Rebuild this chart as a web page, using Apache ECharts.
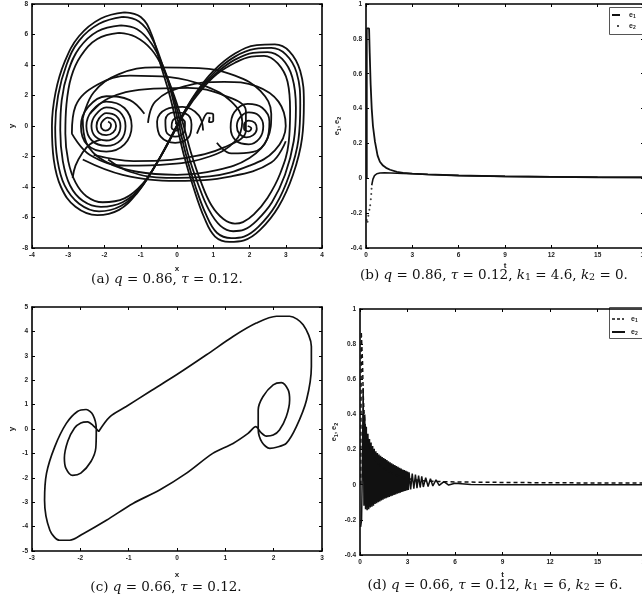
<!DOCTYPE html>
<html>
<head>
<meta charset="utf-8">
<script src="https://cdn.jsdelivr.net/npm/echarts@6/dist/echarts.min.js"></script>
<style>
  html, body { margin: 0; padding: 0; background: #fff; }
  #main { width: 642px; height: 600px; }
</style>
</head>
<body>
<div id="main"></div>
<script>
// ---- (a) q = 0.86 attractor ----
var strand1 = [[-1.45,7.45],[-2.1,7.05],[-2.7,5.9],[-3.1,4.2],[-3.35,2.2],[-3.45,0.0],[-3.4,-2.2],[-3.2,-4.0],[-2.8,-5.3],[-2.2,-5.85],
  [-1.6,-5.5],[-1.1,-4.4],[-0.65,-2.8],[-0.25,-1.1],[0.1,0.5],[0.5,2.1],[1.0,3.6],[1.6,4.75],[2.2,5.3],[2.7,5.35],
  [3.1,4.9],[3.4,3.6],[3.5,1.5],[3.45,-0.8],[3.2,-3.2],[2.8,-5.3],[2.3,-6.8],[1.85,-7.5],[1.45,-7.6],
  [1.05,-7.25],[0.75,-6.0],[0.45,-4.0],[0.2,-2.0],[0,0],[-0.2,2.0],[-0.45,4.0],[-0.7,6.0],[-1.0,7.15],[-1.45,7.45]];
var strand2 = [[-1.5,7.15],[-2.15,6.7],[-2.7,5.6],[-3.05,4.0],[-3.28,2.0],[-3.36,-0.1],[-3.3,-2.2],[-3.1,-3.9],[-2.7,-5.1],[-2.15,-5.6],
  [-1.55,-5.25],[-1.05,-4.2],[-0.6,-2.6],[-0.2,-0.9],[0.15,0.7],[0.55,2.2],[1.05,3.55],[1.6,4.55],[2.15,5.05],[2.6,5.12],
  [3.0,4.7],[3.3,3.5],[3.4,1.4],[3.35,-0.9],[3.1,-3.2],[2.72,-5.2],[2.25,-6.6],[1.85,-7.25],[1.5,-7.35],
  [1.1,-7.0],[0.8,-5.8],[0.5,-3.9],[0.25,-1.9],[0.05,0.1],[-0.15,2.1],[-0.4,4.0],[-0.7,5.8],[-1.05,6.85],[-1.5,7.15]];
var strand3 = [[-1.55,6.6],[-2.2,6.2],[-2.7,5.1],[-3.0,3.6],[-3.18,1.7],[-3.22,-0.3],[-3.15,-2.3],[-2.95,-3.9],[-2.6,-4.9],[-2.1,-5.3],
  [-1.5,-5.0],[-1.0,-4.0],[-0.55,-2.4],[-0.15,-0.7],[0.2,0.9],[0.6,2.3],[1.1,3.5],[1.6,4.35],[2.1,4.8],[2.5,4.85],
  [2.9,4.4],[3.18,3.2],[3.28,1.2],[3.22,-1.0],[2.98,-3.2],[2.62,-5.0],[2.2,-6.2],[1.85,-6.8],[1.55,-6.9],
  [1.2,-6.55],[0.88,-5.5],[0.58,-3.8],[0.3,-1.8],[0.1,0.2],[-0.12,2.1],[-0.38,3.9],[-0.7,5.4],[-1.1,6.35],[-1.55,6.6]];
var strand4 = [[-1.6,6.1],[-2.2,5.7],[-2.65,4.6],[-2.92,3.2],[-3.05,1.4],[-3.08,-0.5],[-3.0,-2.3],[-2.8,-3.7],[-2.5,-4.6],[-2.05,-5.0],
  [-1.45,-4.75],[-0.95,-3.8],[-0.5,-2.2],[-0.1,-0.5],[0.25,1.0],[0.65,2.3],[1.1,3.4],[1.6,4.15],[2.05,4.55],[2.4,4.6],
  [2.78,4.1],[3.05,2.9],[3.12,1.0],[3.08,-1.1],[2.85,-3.1],[2.5,-4.7],[2.12,-5.8],[1.82,-6.3],[1.6,-6.4],
  [1.28,-6.1],[0.95,-5.2],[0.65,-3.6],[0.38,-1.7],[0.15,0.3],[-0.08,2.0],[-0.35,3.6],[-0.7,5.0],[-1.15,5.85],[-1.6,6.1]];
var loopBig = [[-2.6,0.5],[-2.3,2.2],[-1.6,3.4],[-0.6,3.85],[0.6,3.8],[1.6,3.3],[2.3,2.3],[2.6,0.8],[2.5,-0.8],[2.0,-2.1],
  [1.1,-2.9],[0,-3.2],[-1.1,-3.0],[-2.0,-2.3],[-2.5,-1.1],[-2.6,0.5]];
var loopLeft = [[-2.9,-0.5],[-2.8,1.3],[-2.2,2.7],[-1.3,3.3],[-0.2,3.2],[0.8,2.6],[1.5,1.6],[1.8,0.3],[1.6,-1.0],[0.9,-2.0],
  [-0.2,-2.5],[-1.4,-2.6],[-2.4,-1.9],[-2.9,-0.5]];
var loopRight = [[-0.8,0.2],[-0.6,1.6],[0.2,2.6],[1.3,2.9],[2.2,2.6],[2.8,1.6],[3.0,0.0],[2.7,-1.6],[2.0,-2.6],[0.9,-3.3],
  [-0.3,-3.4],[-1.3,-3.0],[-1.9,-2.2]];
var loopMid = [[-2.3,-1.9],[-1.2,-2.3],[0.2,-2.1],[1.3,-1.4],[1.9,-0.3],[1.9,1.0],[1.3,2.0],[0.3,2.5],[-0.9,2.4],[-1.9,1.8],[-2.4,0.8]];
var loopLow = [[-2.6,-2.2],[-1.5,-3.2],[0,-3.6],[1.5,-3.3],[2.6,-2.4],[3.0,-1.0]];
var spiralLeft = [[-1.9,0.3],[-1.82,0.1],[-1.85,-0.15],[-1.97,-0.3],[-2.08,-0.15],[-2.1,0.1],[-2.03,0.38],
  [-1.92,0.55],[-1.75,0.4],[-1.68,0.0],[-1.76,-0.42],[-1.95,-0.6],[-2.15,-0.45],[-2.22,0.0],[-2.15,0.5],
  [-1.95,0.85],[-1.68,0.66],[-1.56,0.0],[-1.66,-0.66],[-1.95,-0.95],[-2.25,-0.7],[-2.36,0.0],[-2.25,0.72],
  [-1.95,1.22],[-1.58,0.92],[-1.42,0.0],[-1.55,-0.92],[-1.95,-1.3],[-2.35,-0.95],[-2.5,0.0],[-2.35,0.98],
  [-1.95,1.6],[-1.45,1.18],[-1.25,0.0],[-1.45,-1.2],[-1.95,-1.68],[-2.48,-1.22],[-2.65,0.0],[-2.45,1.25],
  [-1.95,1.95],[-1.3,1.7],[-0.9,0.8]];
var spiralRight = [[1.95,0.0],[2.05,-0.15],[1.98,-0.35],[1.85,-0.2],[1.85,0.1],[1.98,0.35],[2.15,0.2],[2.2,-0.2],
  [2.1,-0.6],[1.92,-0.75],[1.72,-0.5],[1.65,0.0],[1.75,0.6],[1.98,0.9],[2.25,0.7],[2.38,0.0],[2.28,-0.8],
  [1.98,-1.2],[1.62,-0.95],[1.48,-0.1],[1.58,0.9],[1.95,1.45],[2.35,1.2],[2.55,0.3],[2.48,-0.9],[2.1,-1.7],
  [1.5,-1.8],[1.1,-1.1]];
var spiralMid = [[-0.05,0.2],[0.08,0.0],[0.0,-0.3],[-0.15,-0.1],[-0.12,0.35],[0.05,0.55],[0.22,0.2],[0.2,-0.4],
  [-0.05,-0.7],[-0.3,-0.35],[-0.32,0.4],[-0.1,0.9],[0.25,0.8],[0.4,0.1],[0.32,-0.75],[-0.05,-1.1],[-0.45,-0.7],
  [-0.55,0.3],[-0.3,1.1],[0.15,1.25],[0.6,0.7],[0.72,-0.3]];
var hook = [[0.55,-0.5],[0.7,0.3],[0.85,0.85],[1.0,0.75],[1.0,0.35],[0.88,0.25],[0.9,0.6]];
var tail = [[-2.88,-3.4],[-2.8,-2.6],[-2.62,-1.8],[-2.4,-1.2],[-2.1,-0.9]];

// ---- (c) q = 0.66 limit cycle ----
var cycle = [[-1.62,-0.1],[-1.39,0.5],[-1.05,0.92],[-0.57,1.53],[-0.01,2.22],[0.61,3.04],[1.16,3.79],[1.64,4.34],
  [2.06,4.62],[2.33,4.62],[2.61,4.27],[2.78,3.38],[2.78,2.56],[2.68,1.19],[2.47,0.1],[2.26,-0.59],[2.06,-0.75],
  [1.92,-0.79],[1.76,-0.55],[1.68,0.0],[1.68,0.78],[1.78,1.33],[1.99,1.81],[2.16,1.9],[2.3,1.6],[2.33,1.19],
  [2.26,0.5],[2.12,-0.04],[1.99,-0.25],[1.85,-0.29],[1.74,-0.15],[1.63,0.1],
  [1.47,-0.18],[1.16,-0.59],[0.74,-1.0],[0.19,-1.82],[-0.36,-2.5],[-0.91,-3.05],[-1.46,-3.74],[-1.94,-4.29],
  [-2.22,-4.56],[-2.43,-4.56],[-2.63,-4.15],[-2.74,-2.92],[-2.7,-1.82],[-2.53,-0.73],[-2.29,0.23],[-2.06,0.72],
  [-1.88,0.8],[-1.74,0.58],[-1.67,0.0],[-1.68,-0.78],[-1.78,-1.33],[-1.99,-1.81],[-2.16,-1.9],[-2.3,-1.6],
  [-2.33,-1.19],[-2.26,-0.5],[-2.12,0.04],[-1.99,0.25],[-1.85,0.29],[-1.74,0.15],[-1.62,-0.1]];

// ---- (b) errors, k1 = 4.6, k2 = 0 ----
var e1b = [[0.05,0],[0.05,0.86],[0.2,0.86],[0.24,0.72],[0.3,0.54],[0.37,0.4],[0.45,0.3],[0.58,0.21],[0.75,0.13],
  [0.9,0.095],[1.1,0.073],[1.3,0.06],[1.56,0.049],[2.0,0.037],[2.4,0.031],[3,0.027],[4,0.022],[6,0.016],
  [9,0.011],[12,0.008],[15,0.006],[18,0.005]];
var e2bDots = [[0.05,-0.24],[0.1,-0.25],[0.15,-0.215],[0.22,-0.18],[0.27,-0.155],[0.31,-0.12],[0.34,-0.09],[0.36,-0.06]];
var e2bLine = [[0.37,-0.04],[0.45,-0.005],[0.55,0.015],[0.7,0.026],[0.9,0.03],[1.2,0.031],[1.6,0.03],[2.0,0.029],
  [2.4,0.028],[3,0.026],[4,0.022],[6,0.016],[9,0.011],[12,0.008],[15,0.006],[18,0.005]];

// ---- (d) errors, k1 = 6, k2 = 6 ----
var e1d = [[0.05,0],[0.08,0.87],[0.12,0.86],[0.16,0.7],[0.2,0.52],[0.25,0.42],[0.32,0.34],[0.4,0.29],[0.53,0.24],
  [0.7,0.19],[0.95,0.145],[1.25,0.11],[1.58,0.088],[2.0,0.066],[2.4,0.05],[3.0,0.035],[3.5,0.027],[4.2,0.021],
  [5,0.018],[6,0.016],[9,0.013],[12,0.011],[15,0.01],[18,0.009]];
var e2d = [[0.04,-0.24],[0.1,-0.2],[0.15,0.1],[0.2,0.55],[0.25,-0.12],[0.3,0.4],[0.35,-0.14],[0.4,0.33],[0.45,-0.145],
  [0.5,0.29],[0.55,-0.14],[0.6,0.26],[0.65,-0.13],[0.7,0.24],[0.75,-0.125],[0.8,0.22],[0.85,-0.12],[0.9,0.205],
  [0.95,-0.11],[1.0,0.19],[1.05,-0.105],[1.1,0.18],[1.15,-0.1],[1.2,0.172],[1.25,-0.095],[1.3,0.165],[1.35,-0.09],
  [1.4,0.158],[1.45,-0.085],[1.5,0.152],[1.55,-0.08],[1.6,0.146],[1.65,-0.077],[1.7,0.14],[1.75,-0.073],
  [1.8,0.134],[1.85,-0.07],[1.9,0.128],[1.95,-0.066],[2.0,0.122],[2.05,-0.062],[2.1,0.117],[2.15,-0.058],
  [2.2,0.112],[2.25,-0.055],[2.3,0.107],[2.35,-0.051],[2.4,0.102],[2.45,-0.048],[2.5,0.097],[2.55,-0.045],
  [2.6,0.092],[2.65,-0.042],[2.7,0.087],[2.75,-0.039],[2.8,0.083],[2.85,-0.036],[2.9,0.079],[2.95,-0.033],
  [3.0,0.075],[3.05,-0.03],[3.1,0.071],[3.2,-0.027],[3.3,0.064],[3.4,-0.023],[3.5,0.058],[3.6,-0.019],
  [3.7,0.052],[3.8,-0.016],[3.9,0.047],[4.0,-0.013],[4.15,0.04],[4.3,-0.01],[4.45,0.034],[4.6,-0.007],
  [4.8,0.027],[5.0,-0.004],[5.3,0.018],[5.6,-0.002],[6.0,0.008],[7,0.001],[9,0.0005],[12,0],[18,0]];

// ---- axes ----
var labelFont = { fontFamily: 'Liberation Sans, Arial, sans-serif', fontSize: 6.5, fontWeight: 'bold', color: '#222', margin: 4 };
var subRich = {
  e: { fontFamily: 'Liberation Sans, Arial, sans-serif', fontSize: 7.5, fontWeight: 'bold', color: '#222' },
  s: { fontFamily: 'Liberation Sans, Arial, sans-serif', fontSize: 5.5, fontWeight: 'bold', color: '#222', padding: [4, 0, 0, 0] }
};

function axis(gi, pos, min, max, interval, name, gap) {
  var mirror = pos === 'top' || pos === 'right';
  return {
    type: 'value', gridIndex: gi, position: pos, min: min, max: max, interval: interval,
    axisLine: { show: true, onZero: false, lineStyle: { color: '#000', width: 1.6 } },
    axisTick: { show: true, inside: true, length: 3, lineStyle: { color: '#000', width: 1 } },
    splitLine: { show: false },
    axisLabel: mirror ? { show: false } : labelFont,
    name: mirror ? '' : name,
    nameLocation: 'middle',
    nameGap: gap,
    nameRotate: pos === 'left' ? 90 : 0,
    nameTextStyle: { fontFamily: 'Liberation Sans, Arial, sans-serif', fontSize: 8, fontWeight: 'bold', color: '#222', rich: subRich }
  };
}

var eName = '{e|e}{s|1}{e|, e}{s|2}';
var xAxes = [
  axis(0, 'bottom', -4, 4, 1, 'x', 17), axis(0, 'top', -4, 4, 1),
  axis(1, 'bottom', 0, 18, 3, 't', 14), axis(1, 'top', 0, 18, 3),
  axis(2, 'bottom', -3, 3, 1, 'x', 20), axis(2, 'top', -3, 3, 1),
  axis(3, 'bottom', 0, 18, 3, 't', 16), axis(3, 'top', 0, 18, 3)
];
var yAxes = [
  axis(0, 'left', -8, 8, 2, 'y', 16), axis(0, 'right', -8, 8, 2),
  axis(1, 'left', -0.4, 1, 0.2, eName, 24), axis(1, 'right', -0.4, 1, 0.2),
  axis(2, 'left', -5, 5, 1, 'y', 16), axis(2, 'right', -5, 5, 1),
  axis(3, 'left', -0.4, 1, 0.2, eName, 21), axis(3, 'right', -0.4, 1, 0.2)
];

function line(data, gi, opt) {
  var s = {
    type: 'line', xAxisIndex: gi * 2, yAxisIndex: gi * 2, data: data,
    showSymbol: false, symbol: 'none', smooth: 0.4, silent: true, animation: false,
    lineStyle: { color: '#111', width: 1.8 }
  };
  return Object.assign(s, opt || {});
}

var series = [];
[strand1, strand2, strand3, strand4, loopBig, loopLeft, loopRight, loopMid, loopLow,
  spiralLeft, spiralRight, spiralMid, hook, tail].forEach(function (d) { series.push(line(d, 0)); });
series.push(line(cycle, 2, { smooth: 0.3, lineStyle: { color: '#111', width: 1.7 } }));
series.push(line(e1b, 1, { smooth: false, lineStyle: { color: '#111', width: 1.8 } }));
series.push(line(e2bLine, 1, { smooth: false, lineStyle: { color: '#111', width: 1.6 } }));
series.push({ type: 'scatter', xAxisIndex: 2, yAxisIndex: 2, data: e2bDots, symbolSize: 2,
  itemStyle: { color: '#111' }, silent: true, animation: false });
series.push(line(e2d, 3, { smooth: false, lineStyle: { color: '#111', width: 1.5 } }));
series.push(line(e1d, 3, { smooth: false, lineStyle: { color: '#111', width: 1.5, type: [4, 3] } }));

// ---- captions and legends ----
var capRich = {
  n: { fontFamily: 'DejaVu Serif', fontSize: 13.5, fill: '#111' },
  i: { fontFamily: 'DejaVu Serif', fontStyle: 'italic', fontSize: 13.5, fill: '#111' },
  s: { fontFamily: 'DejaVu Serif', fontSize: 9.5, fill: '#111', padding: [6, 0, 0, 0] }
};
function caption(x, y, text) {
  return { type: 'text', style: { x: x, y: y, text: text, rich: capRich, align: 'center', verticalAlign: 'middle' } };
}
var legRich = {
  e: { fontFamily: 'Liberation Sans, Arial, sans-serif', fontSize: 7, fontWeight: 'bold', fill: '#222' },
  s: { fontFamily: 'Liberation Sans, Arial, sans-serif', fontSize: 5, fontWeight: 'bold', fill: '#222', padding: [4, 0, 0, 0] }
};
function legText(x, y, n) {
  return { type: 'text', style: { x: x, y: y, text: '{e|e}{s|' + n + '}', rich: legRich, verticalAlign: 'middle' } };
}

var graphic = [
  caption(167, 279, '{n|(a) }{i|q}{n| = 0.86, }{i|τ}{n| = 0.12.}'),
  caption(494, 275, '{n|(b) }{i|q}{n| = 0.86, }{i|τ}{n| = 0.12, }{i|k}{s|1}{n| = 4.6, }{i|k}{s|2}{n| = 0.}'),
  caption(166, 587, '{n|(c) }{i|q}{n| = 0.66, }{i|τ}{n| = 0.12.}'),
  caption(495, 585, '{n|(d) }{i|q}{n| = 0.66, }{i|τ}{n| = 0.12, }{i|k}{s|1}{n| = 6, }{i|k}{s|2}{n| = 6.}'),
  { type: 'rect', shape: { x: 609.5, y: 7.5, width: 40, height: 27 }, style: { fill: '#fff', stroke: '#555', lineWidth: 1 } },
  { type: 'line', shape: { x1: 612, y1: 15, x2: 620, y2: 15 }, style: { stroke: '#111', lineWidth: 2 } },
  legText(629, 15, '1'),
  { type: 'circle', shape: { cx: 618, cy: 26, r: 1 }, style: { fill: '#111' } },
  legText(629, 26, '2'),
  { type: 'rect', shape: { x: 609.5, y: 307.5, width: 40, height: 31 }, style: { fill: '#fff', stroke: '#555', lineWidth: 1 } },
  { type: 'line', shape: { x1: 612, y1: 319, x2: 624, y2: 319 }, style: { stroke: '#111', lineWidth: 1.5, lineDash: [3, 2] } },
  legText(631, 319, '1'),
  { type: 'line', shape: { x1: 612, y1: 332, x2: 625, y2: 332 }, style: { stroke: '#111', lineWidth: 2 } },
  legText(631, 332, '2')
];

var chart = echarts.init(document.getElementById('main'));
chart.setOption({
  animation: false,
  backgroundColor: '#fff',
  grid: [
    { left: 32, top: 4, width: 290, height: 244, outerBoundsMode: 'none' },
    { left: 366, top: 4, width: 278, height: 244, outerBoundsMode: 'none' },
    { left: 32, top: 307, width: 290, height: 244, outerBoundsMode: 'none' },
    { left: 360, top: 309, width: 285, height: 246, outerBoundsMode: 'none' }
  ],
  xAxis: xAxes,
  yAxis: yAxes,
  series: series,
  graphic: graphic
});
</script>
</body>
</html>
